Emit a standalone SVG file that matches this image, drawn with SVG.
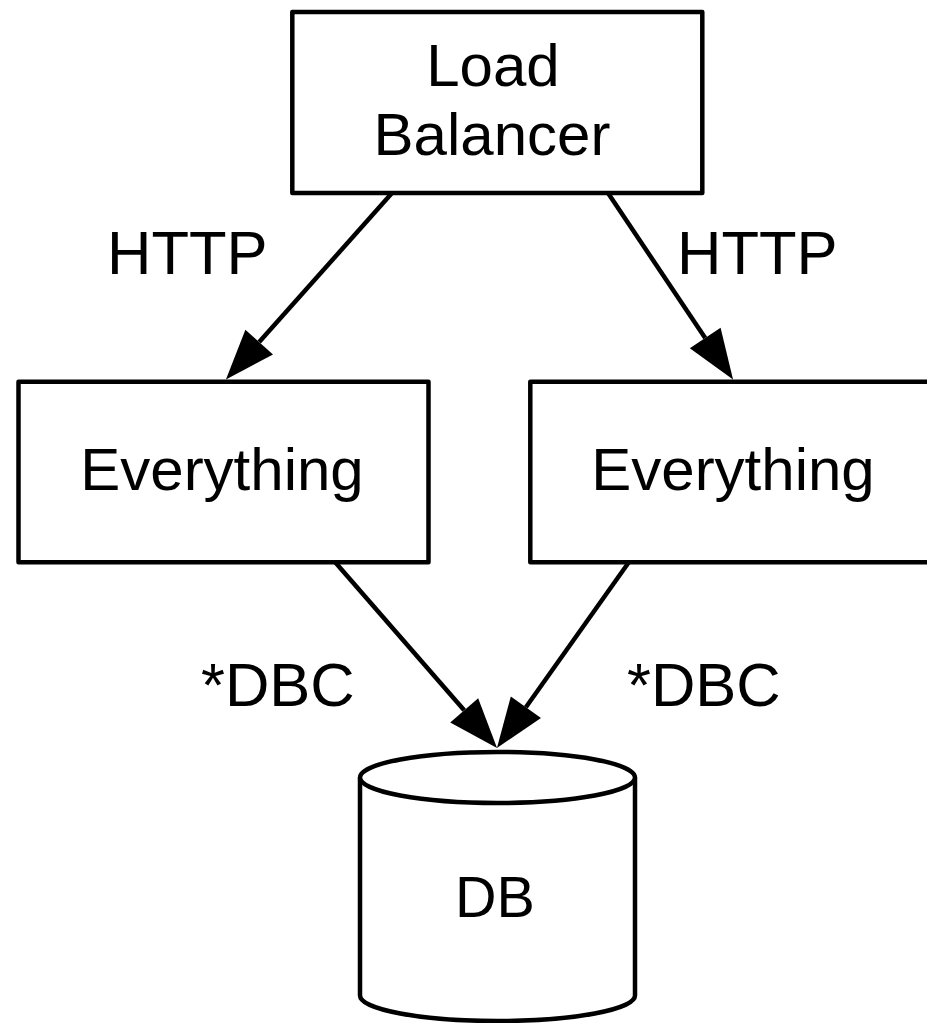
<svg xmlns="http://www.w3.org/2000/svg" width="927" height="1023" viewBox="0 0 927 1023">
  <style>
    .box { fill: #ffffff; stroke: #000000; stroke-width: 4.5; stroke-linejoin: round; }
    .edge { fill: none; stroke: #000000; stroke-width: 4.5; marker-end: url(#arrow); }
    .label { font-family: "Liberation Sans", Arial, Helvetica, sans-serif; font-size: 60px; fill: #000000; }
    .edge-label { font-size: 61.5px; }
    .mid { text-anchor: middle; }
  </style>
  <defs>
    <!-- solid block arrowhead, 50 long and 37 wide, drawn beyond the line end -->
    <marker id="arrow" markerUnits="userSpaceOnUse" viewBox="0 -20 52 40" markerWidth="52" markerHeight="40" refX="0" refY="0" orient="auto" overflow="visible">
      <path d="M0,-18.5 L50,0 L0,18.5 Z" fill="#000000"/>
    </marker>
  </defs>

  <g id="load-balancer">
    <rect class="box" x="292.3" y="12" width="410" height="181"/>
    <text class="label mid" x="493" y="85.5">Load</text>
    <text class="label mid" x="492" y="154.5">Balancer</text>
  </g>

  <g id="everything-left">
    <rect class="box" x="18.5" y="381.7" width="410" height="180.6"/>
    <text class="label mid" x="222" y="490">Everything</text>
  </g>

  <g id="everything-right">
    <rect class="box" x="530.3" y="381.7" width="410" height="180.6"/>
    <text class="label mid" x="733" y="490">Everything</text>
  </g>

  <g id="db">
    <path class="box" d="M360,777.5 L360,995.5 A137.5,25.5 0 0 0 635,995.5 L635,777.5"/>
    <ellipse class="box" cx="497.5" cy="777.5" rx="137.5" ry="25.5"/>
    <text class="label mid" x="495" y="917" style="font-size:57.5px">DB</text>
  </g>

  <g id="connectors">
    <line class="edge" x1="392" y1="193" x2="259.2" y2="342.1"/>
    <line class="edge" x1="608" y1="193" x2="705.2" y2="338.0"/>
    <line class="edge" x1="335" y1="562" x2="464.2" y2="710.3"/>
    <line class="edge" x1="629" y1="562" x2="525.9" y2="707.2"/>
    <text class="label edge-label" x="107" y="273.5">HTTP</text>
    <text class="label edge-label" x="677" y="273.5">HTTP</text>
    <text class="label edge-label" x="201" y="705.5">*DBC</text>
    <text class="label edge-label" x="627" y="705.5">*DBC</text>
  </g>
</svg>
